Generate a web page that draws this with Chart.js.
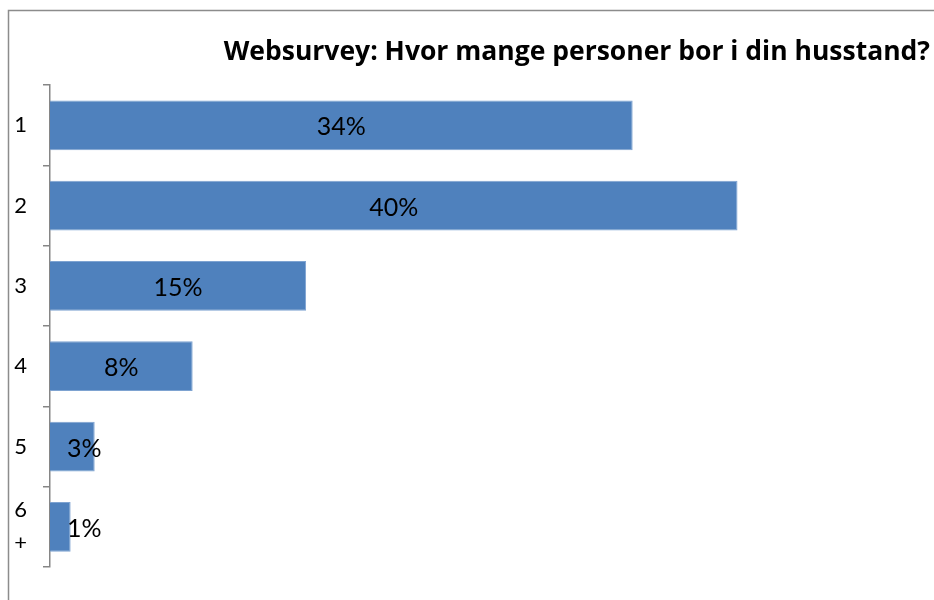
<!DOCTYPE html>
<html>
<head>
<meta charset="utf-8">
<script src="https://cdn.jsdelivr.net/npm/chart.js@4"></script>
<style>
  html, body { margin: 0; padding: 0; background: #fff; }
  #wrap { width: 934px; height: 600px; }
</style>
</head>
<body>
<div id="wrap"><canvas id="myChart" width="934" height="600"></canvas></div>
<script>
// survey data
var categories = ['1', '2', '3', '4', '5', ['6', '+']];
var shares = [33.9, 40, 14.9, 8.3, 2.6, 1.2];
var shareLabels = ['34%', '40%', '15%', '8%', '3%', '1%'];

var frame = {
    id: 'frame',
    beforeDraw: function (chart) {
        var c = chart.ctx;
        c.save();
        c.strokeStyle = '#8c8c8c';
        c.lineWidth = 1.5;
        c.beginPath();
        c.moveTo(8.5, 620);
        c.lineTo(8.5, 10.5);
        c.lineTo(960, 10.5);
        c.stroke();
        c.restore();
    }
};

var barLabels = {
    id: 'barLabels',
    afterDatasetsDraw: function (chart) {
        var c = chart.ctx;
        var meta = chart.getDatasetMeta(0);
        c.save();
        c.font = '25px Lato';
        c.fillStyle = '#000';
        c.textAlign = 'center';
        c.textBaseline = 'middle';
        meta.data.forEach(function (bar, i) {
            var txt = shareLabels[i];
            var w = c.measureText(txt).width;
            var x = (bar.x + bar.base) / 2;
            x = Math.max(x, bar.base + 17 + w / 2);
            c.fillText(txt, x, bar.y + 2);
        });
        c.restore();
    }
};

var ctx = document.getElementById('myChart').getContext('2d');
var myChart = new Chart(ctx, {
    type: 'bar',
    data: {
        labels: categories,
        datasets: [{
            data: shares,
            backgroundColor: '#4f81bd',
            borderColor: '#7ea3d1',
            borderWidth: 1,
            barPercentage: 0.62,
            categoryPercentage: 1
        }]
    },
    options: {
        indexAxis: 'y',
        responsive: false,
        animation: false,
        layout: { padding: { top: 0, right: 4, bottom: 33, left: 0 } },
        plugins: {
            legend: { display: false },
            tooltip: { enabled: false },
            title: {
                display: true,
                text: 'Websurvey: Hvor mange personer bor i din husstand?',
                align: 'end',
                color: '#000',
                font: { family: 'Open Sans', size: 26.5, weight: 'bold', lineHeight: 1.1 },
                padding: { top: 38, bottom: 18 }
            }
        },
        scales: {
            x: {
                display: false,
                min: 0,
                max: 51.2
            },
            y: {
                afterFit: function (axis) { axis.width = 50; },
                grid: {
                    offset: true,
                    drawOnChartArea: false,
                    tickLength: 7,
                    color: '#868686',
                    lineWidth: 1.5
                },
                border: { color: '#868686', width: 1.5 },
                ticks: {
                    color: '#000',
                    padding: 16,
                    font: { family: 'Lato', size: 22, lineHeight: 1.5 }
                }
            }
        }
    },
    plugins: [frame, barLabels]
});
</script>
</body>
</html>
